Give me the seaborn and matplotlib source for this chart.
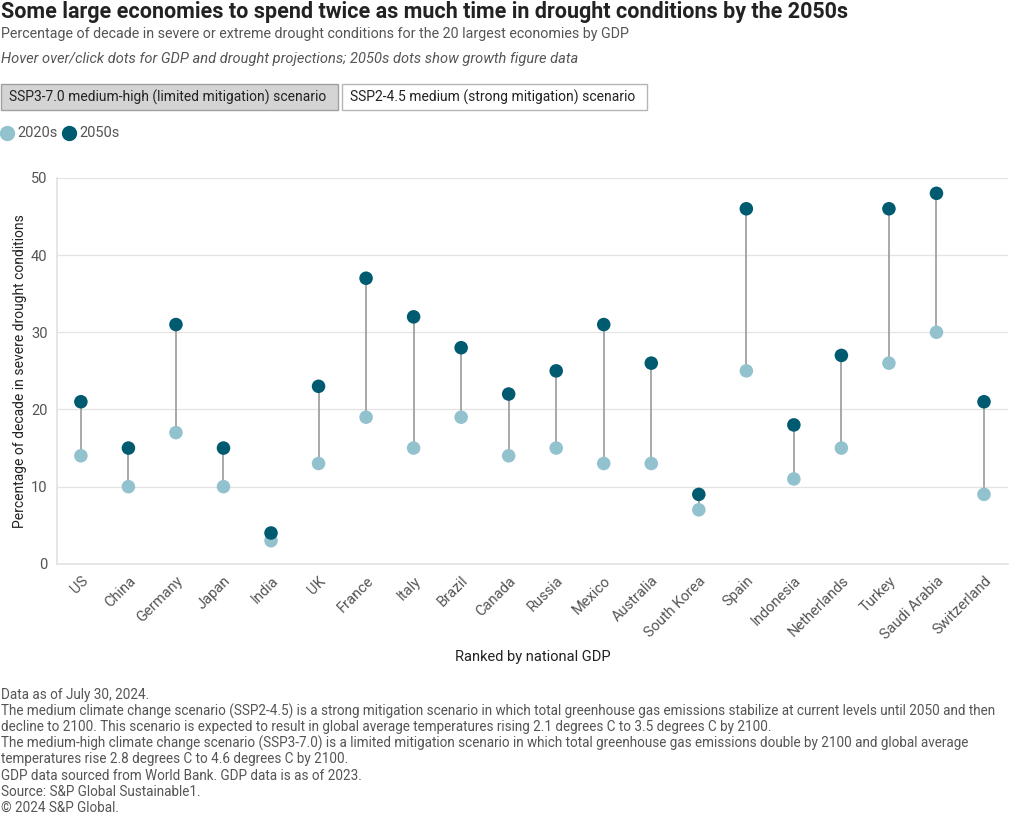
# ---------------------------------------------------
# Drought lollipop chart: 2020s vs 2050s, SSP3-7.0
# ---------------------------------------------------

import pandas as pd
import seaborn as sns
import matplotlib.pyplot as plt
from matplotlib.patches import Rectangle
from matplotlib.lines import Line2D

# Data
countries = ["US", "China", "Germany", "Japan", "India", "UK", "France", "Italy",
             "Brazil", "Canada", "Russia", "Mexico", "Australia", "South Korea",
             "Spain", "Indonesia", "Netherlands", "Turkey", "Saudi Arabia", "Switzerland"]
drought_2020s = [14, 10, 17, 10, 3, 13, 19, 15, 19, 14, 15, 13, 13, 7, 25, 11, 15, 26, 30, 9]
drought_2050s = [21, 15, 31, 15, 4, 23, 37, 32, 28, 22, 25, 31, 26, 9, 46, 18, 27, 46, 48, 21]
decades = ["2020s", "2050s"]
y_ticks = [0, 10, 20, 30, 40, 50]

footer_lines = [
    "Data as of July 30, 2024.",
    "The medium climate change scenario (SSP2-4.5) is a strong mitigation scenario in which total greenhouse gas emissions stabilize at current levels until 2050 and then",
    "decline to 2100. This scenario is expected to result in global average temperatures rising 2.1 degrees C to 3.5 degrees C by 2100.",
    "The medium-high climate change scenario (SSP3-7.0) is a limited mitigation scenario in which total greenhouse gas emissions double by 2100 and global average",
    "temperatures rise 2.8 degrees C to 4.6 degrees C by 2100.",
    "GDP data sourced from World Bank. GDP data is as of 2023.",
    "Source: S&P Global Sustainable1.",
    "\u00a9 2024 S&P Global.",
]

LIGHT = "#93c2cf"
DARK = "#005a70"
GREY = "#555555"

sns.set_theme(style="white")
plt.rcParams['font.family'] = ['Roboto', 'DejaVu Sans']

df = pd.DataFrame({
    "country": countries * 2,
    "decade": ["2020s"] * len(countries) + ["2050s"] * len(countries),
    "value": drought_2020s + drought_2050s,
})
df["pos"] = df["country"].map({c: i for i, c in enumerate(countries)})

W, H = 1020, 816
fig = plt.figure(figsize=(W / 100, H / 100), dpi=100)
ax = fig.add_axes([0.056, 0.309, 0.932, 0.473])


def fx(px):
    return px / W


def fy(py):
    return 1 - py / H


# -----------------------------
# Connector lines + dots
# -----------------------------
ax.vlines(range(len(countries)), drought_2020s, drought_2050s, color="#9a9a9a", lw=1.2, zorder=1)
sns.scatterplot(data=df, x="pos", y="value", hue="decade", hue_order=decades,
                palette=[LIGHT, DARK], s=95, linewidth=0, legend=False, ax=ax, zorder=3)

ax.set_xlim(-0.5, len(countries) - 0.5)
ax.set_ylim(0, 50)
ax.set_yticks(y_ticks)
ax.set_xticks(range(len(countries)))
ax.set_xticklabels(countries, rotation=45, ha="right", rotation_mode="anchor")
ax.tick_params(axis="both", labelsize=10.5, colors=GREY, length=0, pad=7)
ax.grid(axis="y", color="#e3e3e3", lw=0.9)
ax.set_axisbelow(True)
for side in ["top", "right"]:
    ax.spines[side].set_visible(False)
ax.spines["left"].set_color("#e3e3e3")
ax.spines["bottom"].set_color("#e3e3e3")
ax.set_ylabel("Percentage of decade in severe drought conditions", fontsize=10, color="#222222", labelpad=3)
ax.set_xlabel("Ranked by national GDP", fontsize=10.5, color="#222222", labelpad=6)

# -----------------------------
# Header
# -----------------------------
fig.text(fx(1), fy(12), "Some large economies to spend twice as much time in drought conditions by the 2050s",
         fontsize=15.5, fontweight="bold", color="#222222", va="center")
fig.text(fx(1), fy(34), "Percentage of decade in severe or extreme drought conditions for the 20 largest economies by GDP",
         fontsize=10.3, color=GREY, va="center")
fig.text(fx(1), fy(59), "Hover over/click dots for GDP and drought projections; 2050s dots show growth figure data",
         fontsize=10.5, color=GREY, style="italic", va="center")

# scenario buttons
fig.add_artist(Rectangle((fx(1), fy(110)), fx(337), 26 / H, transform=fig.transFigure,
                         facecolor="#d4d4d4", edgecolor="#a0a0a0", lw=1))
fig.add_artist(Rectangle((fx(342), fy(110)), fx(305), 26 / H, transform=fig.transFigure,
                         facecolor="white", edgecolor="#b5b5b5", lw=1))
fig.text(fx(9), fy(97), "SSP3-7.0 medium-high (limited mitigation) scenario", fontsize=10,
         color="#222222", va="center")
fig.text(fx(350), fy(97), "SSP2-4.5 medium (strong mitigation) scenario", fontsize=10,
         color="#222222", va="center")

# legend
for cx, col, lab in [(7, LIGHT, decades[0]), (69, DARK, decades[1])]:
    fig.add_artist(Line2D([fx(cx)], [fy(133)], marker="o", markersize=10, color=col,
                          linestyle="none", transform=fig.transFigure))
    fig.text(fx(cx + 10), fy(133), lab, fontsize=10.5, color=GREY, va="center")

# -----------------------------
# Footer
# -----------------------------
for i, line in enumerate(footer_lines):
    fig.text(fx(1), fy(695 + i * 16.1), line, fontsize=9.75, color=GREY, va="center")

fig.savefig("out.png", dpi=100)
